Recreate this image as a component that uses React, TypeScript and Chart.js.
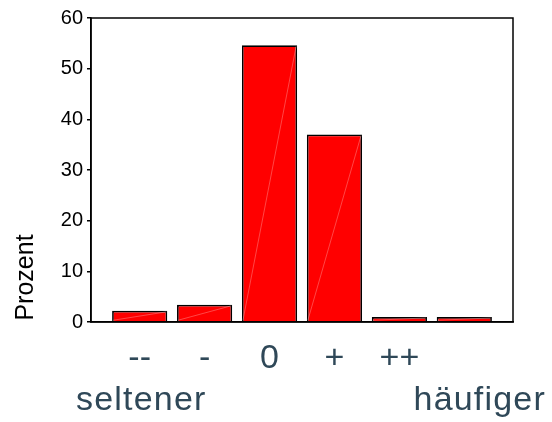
import React, { useEffect, useRef } from "react";
import { Chart, registerables } from "chart.js";

Chart.register(...registerables);

const categories = ["--", "-", "0", "+", "++", ""];
const values = [2.2, 3.4, 54.6, 37.0, 1.0, 1.0];
const yTicks = [0, 10, 20, 30, 40, 50, 60];
const yTitle = "Prozent";
const lowLabel = "seltener";
const highLabel = "häufiger";

const FONT = '"Liberation Sans", Arial, Helvetica, sans-serif';
const TEXT_COLOR = "#2F4858";

export default function App() {
  const ref = useRef<HTMLCanvasElement | null>(null);

  useEffect(() => {
    const canvas = ref.current;
    if (!canvas) return;

    const framePlugin = {
      id: "frame",
      afterDatasetsDraw(chart: any) {
        const ctx = chart.ctx;
        const meta = chart.getDatasetMeta(0);
        ctx.save();
        ctx.strokeStyle = "rgba(255,200,200,0.7)";
        ctx.lineWidth = 0.5;
        meta.data.forEach((el: any) => {
          const p = el.getProps(["x", "y", "base", "width"], true);
          const l = p.x - p.width / 2 + 1;
          const r = p.x + p.width / 2 - 1;
          ctx.beginPath();
          ctx.moveTo(l, p.base - 1);
          ctx.lineTo(r, p.y + 1);
          ctx.stroke();
        });
        ctx.restore();
      },
      afterDraw(chart: any) {
        const ctx = chart.ctx;
        const a = chart.chartArea;
        ctx.save();
        ctx.strokeStyle = "#000";
        ctx.lineWidth = 1.5;
        ctx.strokeRect(a.left, a.top, a.right - a.left, a.bottom - a.top);

        // y title
        ctx.fillStyle = "#000";
        ctx.font = `25px ${FONT}`;
        ctx.textAlign = "center";
        ctx.textBaseline = "alphabetic";
        ctx.translate(33, 277.5);
        ctx.rotate(-Math.PI / 2);
        ctx.fillText(yTitle, 0, 0);
        ctx.restore();

        ctx.save();
        ctx.fillStyle = TEXT_COLOR;
        ctx.font = `34px ${FONT}`;
        (ctx as any).letterSpacing = "1.2px";
        ctx.textBaseline = "alphabetic";
        ctx.textAlign = "left";
        ctx.fillText(lowLabel, a.left - 15, a.bottom + 88);
        ctx.textAlign = "right";
        ctx.fillText(highLabel, a.right + 33, a.bottom + 88);
        ctx.restore();
      },
    };

    const chart = new Chart(canvas, {
      type: "bar",
      data: {
        datasets: [
          {
            data: values.map((v, i) => ({ x: i, y: v })),
            backgroundColor: "#FF0000",
            borderColor: "#000000",
            borderWidth: 1.7,
            barPercentage: 0.85,
            categoryPercentage: 1,
          },
        ],
      },
      options: {
        animation: false,
        responsive: false,
        layout: { padding: { top: 18, right: 39, left: 0, bottom: 0 } },
        plugins: {
          legend: { display: false },
          tooltip: { enabled: false },
        },
        scales: {
          x: {
            type: "linear",
            offset: false,
            min: -0.75,
            max: 5.75,
            grid: { display: false, drawTicks: false, offset: false },
            border: { display: true, color: "#000", width: 1.5 },
            afterBuildTicks: (s: any) => {
              s.ticks = categories.map((_, i) => ({ value: i }));
            },
            afterFit: (s: any) => {
              s.height = 100;
            },
            ticks: {
              callback: (v: any) => categories[v as number] ?? "",
              font: { family: FONT, size: 34 },
              color: TEXT_COLOR,
              padding: 16,
              maxRotation: 0,
              autoSkip: false,
            },
          },
          y: {
            min: 0,
            max: 60,
            afterBuildTicks: (s: any) => {
              s.ticks = yTicks.map((v) => ({ value: v }));
            },
            afterFit: (s: any) => {
              s.width = 91;
            },
            grid: {
              drawOnChartArea: false,
              drawTicks: true,
              tickLength: 4,
              color: "#000",
              lineWidth: 1.5,
            },
            border: { display: true, color: "#000", width: 1.5 },
            ticks: {
              font: { family: FONT, size: 20 },
              color: "#000",
              padding: 4,
            },
          },
        },
      },
      plugins: [framePlugin],
    } as any);

    return () => chart.destroy();
  }, []);

  return (
    <div style={{ position: "absolute", left: 0, top: 0, width: 552, height: 422, background: "#fff" }}>
      <canvas ref={ref} width={552} height={422} style={{ display: "block" }} />
    </div>
  );
}
